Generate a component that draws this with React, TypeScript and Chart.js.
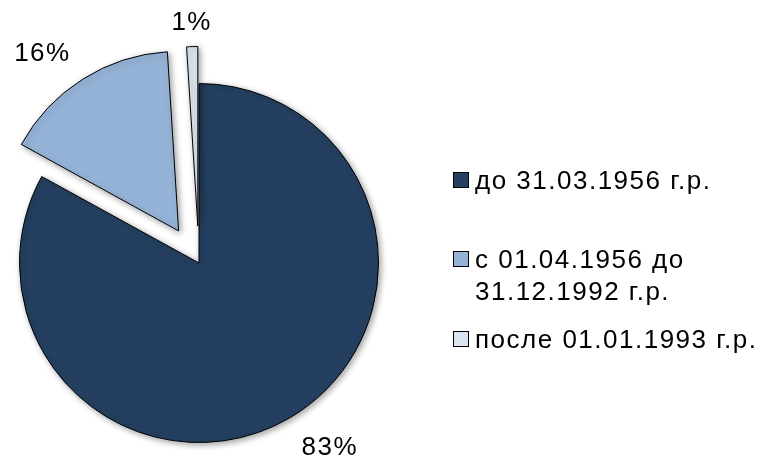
import React, { useEffect, useRef } from "react";
import { Chart, registerables } from "chart.js";

Chart.register(...registerables);

// ---- data ----
const categories = [
  "до 31.03.1956 г.р.",
  "с 01.04.1956 до 31.12.1992 г.р.",
  "после 01.01.1993 г.р.",
];
const shares = [83, 16, 1];
const percentLabels = ["83%", "16%", "1%"];
const sliceColors = ["#243F60", "#95B3D7", "#DBE5F1"];
const explodeDistance = [0, 38, 37];

const FONT = '"Liberation Sans", Arial, Helvetica, sans-serif';
const FONT_SIZE = 26;
const LETTER_SPACING = "1.5px";

function wrapText(ctx: CanvasRenderingContext2D, text: string, maxW: number): string[] {
  const words = text.split(" ");
  const lines: string[] = [];
  let cur = "";
  for (const w of words) {
    const test = cur ? cur + " " + w : w;
    if (cur && ctx.measureText(test).width > maxW) {
      lines.push(cur);
      cur = w;
    } else {
      cur = test;
    }
  }
  if (cur) lines.push(cur);
  return lines;
}

const explodePlugin = {
  id: "explodeDraw",
  beforeDatasetDraw(chart: any, args: any) {
    const ctx: CanvasRenderingContext2D = chart.ctx;
    const meta = args.meta;
    meta.data.forEach((arc: any, i: number) => {
      const mid = (arc.startAngle + arc.endAngle) / 2;
      const d = explodeDistance[i] || 0;
      ctx.save();
      ctx.shadowColor = "rgba(0,0,0,0.38)";
      ctx.shadowBlur = 6;
      ctx.shadowOffsetX = 2;
      ctx.shadowOffsetY = 2;
      ctx.translate(Math.cos(mid) * d, Math.sin(mid) * d);
      arc.draw(ctx, chart.chartArea);
      ctx.restore();
    });
    return false;
  },
};

const labelPlugin = {
  id: "outsideLabels",
  afterDraw(chart: any) {
    const ctx: CanvasRenderingContext2D = chart.ctx;
    const meta = chart.getDatasetMeta(0);
    const capH = FONT_SIZE * 0.716;
    ctx.save();
    ctx.font = `${FONT_SIZE}px ${FONT}`;
    (ctx as any).letterSpacing = LETTER_SPACING;
    ctx.fillStyle = "#000";
    ctx.textBaseline = "alphabetic";
    meta.data.forEach((arc: any, i: number) => {
      const mid = (arc.startAngle + arc.endAngle) / 2;
      const d = explodeDistance[i] || 0;
      const cos = Math.cos(mid);
      const sin = Math.sin(mid);
      const cx = arc.x + cos * d;
      const cy = arc.y + sin * d;
      const vertical = Math.abs(cos) < 0.3;
      const R = arc.outerRadius + (vertical ? 17 : 22);
      const px = cx + cos * R;
      const py = cy + sin * R;
      if (vertical) ctx.textAlign = "center";
      else ctx.textAlign = cos > 0 ? "left" : "right";
      const baseY = sin > 0 ? py + capH : py;
      ctx.fillText(percentLabels[i], px, baseY);
    });
    ctx.restore();
  },
};

const legendPlugin = {
  id: "sideLegend",
  afterDraw(chart: any) {
    const ctx: CanvasRenderingContext2D = chart.ctx;
    const baselines = [189, 268, 348];
    const boxX = 453;
    const textX = 475;
    const lineH = 32;
    ctx.save();
    ctx.font = `${FONT_SIZE}px ${FONT}`;
    (ctx as any).letterSpacing = LETTER_SPACING;
    ctx.textBaseline = "alphabetic";
    ctx.textAlign = "left";
    categories.forEach((label, i) => {
      const base = baselines[i];
      ctx.fillStyle = sliceColors[i];
      ctx.strokeStyle = "#000";
      ctx.lineWidth = 1;
      ctx.fillRect(boxX + 0.5, base - 16.5, 15, 15);
      ctx.strokeRect(boxX + 0.5, base - 16.5, 15, 15);
      ctx.fillStyle = "#000";
      const lines = wrapText(ctx, label, 288);
      lines.forEach((ln, k) => ctx.fillText(ln, textX, base + k * lineH));
    });
    ctx.restore();
  },
};

export default function App() {
  const ref = useRef<HTMLCanvasElement | null>(null);
  useEffect(() => {
    if (!ref.current) return;
    const chart = new Chart(ref.current, {
      type: "pie",
      data: {
        labels: categories,
        datasets: [
          {
            data: shares,
            backgroundColor: sliceColors,
            borderColor: "#000",
            borderWidth: 1,
          },
        ],
      },
      options: {
        responsive: false,
        animation: false,
        events: [],
        radius: 179.5,
        layout: { padding: { left: 0, right: 365, top: 68, bottom: 0 } },
        plugins: {
          legend: { display: false },
          tooltip: { enabled: false },
        },
      } as any,
      plugins: [explodePlugin, labelPlugin, legendPlugin],
    });
    return () => chart.destroy();
  }, []);
  return (
    <div style={{ position: "fixed", left: 0, top: 0, width: 763, height: 458, background: "#fff" }}>
      <canvas ref={ref} width={763} height={458} style={{ width: 763, height: 458, display: "block" }} />
    </div>
  );
}
